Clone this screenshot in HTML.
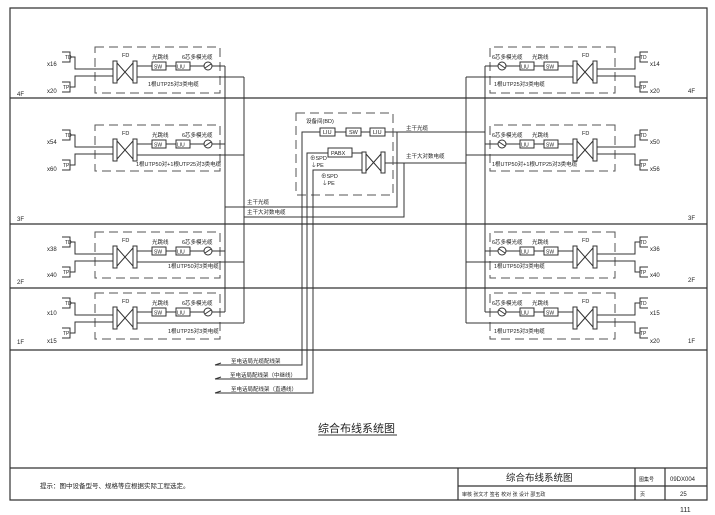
<!DOCTYPE html>
<html><head><meta charset="utf-8"><style>
html,body{margin:0;padding:0;background:#fff;}
svg{display:block;}
text{font-family:"Liberation Sans","Noto Sans CJK SC",sans-serif;fill:#222;}
</style></head><body>
<svg width="715" height="515" viewBox="0 0 715 515" xmlns="http://www.w3.org/2000/svg">
<defs>
<g id="mod" stroke="#333" fill="none" stroke-width="1">
  <rect x="95" y="47" width="125" height="46" stroke-dasharray="9,5" stroke="#555"/>
  <rect x="113" y="61" width="4" height="22" fill="#fff"/>
  <rect x="133" y="61" width="4" height="22" fill="#fff"/>
  <path d="M117,63 L133,81 M117,81 L133,63"/>
  <path d="M62,52 H70 V62 H62 M70,57 H75 V69 H113"/>
  <path d="M62,82 H70 V92 H62 M70,87 H75 V76 H113"/>
  <rect x="152" y="62" width="14" height="8" fill="#fff"/>
  <rect x="176" y="62" width="14" height="8" fill="#fff"/>
  <circle cx="208" cy="66" r="4"/>
  <path d="M205,68 L211,64"/>
  <path d="M137,66 H152 M166,66 H176 M190,66 H204 M212,66 H225"/>
  <path d="M137,77 H244"/>
</g>
<g id="ll" font-size="5.5">
  <text x="122" y="57">FD</text><text x="152" y="59">光跳线</text><text x="182" y="59">6芯多模光缆</text>
  <text x="154" y="68.5" font-size="5">SW</text><text x="177" y="68.5" font-size="5">LIU</text>
</g>
<g id="rl" font-size="5.5">
  <text x="582" y="57">FD</text><text x="492" y="59">6芯多模光缆</text><text x="532" y="59">光跳线</text>
  <text x="521" y="68.5" font-size="5">LIU</text><text x="546" y="68.5" font-size="5">SW</text>
</g>
</defs>
<g stroke="#333" fill="none" stroke-width="1.2">
  <path d="M10,8 H707 V500 H10 Z"/>
  <path d="M10,98 H707 M10,224 H707 M10,288 H707 M10,350 H707"/>
  <path d="M10,468 H707 M458,468 V500 M458,486 H707 M635,468 V500 M665,468 V500"/>
</g>
<use href="#mod"/>
<use href="#mod" transform="translate(0,78)"/>
<use href="#mod" transform="translate(0,185)"/>
<use href="#mod" transform="translate(0,246)"/>
<use href="#mod" transform="translate(710,0) scale(-1,1)"/>
<use href="#mod" transform="translate(710,78) scale(-1,1)"/>
<use href="#mod" transform="translate(710,185) scale(-1,1)"/>
<use href="#mod" transform="translate(710,246) scale(-1,1)"/>
<use href="#ll"/><use href="#ll" transform="translate(0,78)"/><use href="#ll" transform="translate(0,185)"/><use href="#ll" transform="translate(0,246)"/>
<use href="#rl"/><use href="#rl" transform="translate(0,78)"/><use href="#rl" transform="translate(0,185)"/><use href="#rl" transform="translate(0,246)"/>
<g stroke="#333" fill="none" stroke-width="1">
  <path d="M225,66 V312 M244,77 V323 M225,207 H397 V132 M244,217 H404 V163"/>
  <path d="M485,66 V312 M466,77 V323 M385,132 H485 M385,163 H466"/>
  <rect x="296" y="113" width="97" height="82" stroke-dasharray="9,5" stroke="#555"/>
  <rect x="320" y="128" width="15" height="8" fill="#fff"/>
  <rect x="346" y="128" width="15" height="8" fill="#fff"/>
  <rect x="370" y="128" width="15" height="8" fill="#fff"/>
  <path d="M335,132 H346 M361,132 H370 M320,132 H302 V365 H215"/>
  <rect x="328" y="148" width="24" height="9" fill="#fff"/>
  <rect x="362" y="152" width="4" height="21" fill="#fff"/>
  <rect x="381" y="152" width="4" height="21" fill="#fff"/>
  <path d="M366,154 L381,171 M366,171 L381,154 M352,153 H362 M328,153 H307 V379 H215 M362,170 H313 V393 H215"/>
  <path d="M215,365 l6,-2 M215,379 l6,-2 M215,393 l6,-2"/>
  <path d="M318,435 H397"/>
</g>
<g font-size="6">
  <text x="47" y="66">x16</text><text x="65" y="59" font-size="5">TD</text>
  <text x="47" y="93">x20</text><text x="63" y="89" font-size="5">TP</text>
  <text x="47" y="144">x54</text><text x="65" y="137" font-size="5">TD</text>
  <text x="47" y="171">x60</text><text x="63" y="167" font-size="5">TP</text>
  <text x="47" y="251">x38</text><text x="65" y="244" font-size="5">TD</text>
  <text x="47" y="277">x40</text><text x="63" y="274" font-size="5">TP</text>
  <text x="47" y="315">x10</text><text x="65" y="305" font-size="5">TD</text>
  <text x="47" y="343">x15</text><text x="63" y="335" font-size="5">TP</text>
  <text x="650" y="66">x14</text><text x="640" y="59" font-size="5">TD</text>
  <text x="650" y="93">x20</text><text x="640" y="89" font-size="5">TP</text>
  <text x="650" y="144">x50</text><text x="640" y="137" font-size="5">TD</text>
  <text x="650" y="171">x56</text><text x="640" y="167" font-size="5">TP</text>
  <text x="650" y="251">x36</text><text x="640" y="244" font-size="5">TD</text>
  <text x="650" y="277">x40</text><text x="640" y="274" font-size="5">TP</text>
  <text x="650" y="315">x15</text><text x="640" y="305" font-size="5">TD</text>
  <text x="650" y="343">x20</text><text x="640" y="335" font-size="5">TP</text>
  <text x="17" y="96">4F</text><text x="17" y="221">3F</text><text x="17" y="284">2F</text><text x="17" y="344">1F</text>
  <text x="688" y="93">4F</text><text x="688" y="220">3F</text><text x="688" y="282">2F</text><text x="688" y="343">1F</text>
  <g font-size="5.5">
  <text x="148" y="86">1根UTP25对3类电缆</text>
  <text x="136" y="166">1根UTP50对+1根UTP25对3类电缆</text>
  <text x="168" y="268">1根UTP50对3类电缆</text>
  <text x="168" y="333">1根UTP25对3类电缆</text>
  <text x="494" y="86">1根UTP25对3类电缆</text>
  <text x="492" y="166">1根UTP50对+1根UTP25对3类电缆</text>
  <text x="494" y="268">1根UTP50对3类电缆</text>
  <text x="494" y="333">1根UTP25对3类电缆</text>
  <text x="306" y="123">设备间(BD)</text>
  <text x="323" y="134">LIU</text><text x="349" y="134">SW</text><text x="373" y="134">LIU</text>
  <text x="331" y="155">PABX</text>
  <text x="310" y="160">⊕SPD</text><text x="311" y="167">⏚PE</text>
  <text x="321" y="178">⊕SPD</text><text x="322" y="185">⏚PE</text>
  <text x="406" y="130">主干光缆</text><text x="406" y="158">主干大对数电缆</text>
  <text x="247" y="204">主干光缆</text><text x="247" y="214">主干大对数电缆</text>
  <text x="231" y="363">至电话局光缆配线架</text>
  <text x="230" y="377">至电话局配线架（中继线）</text>
  <text x="231" y="391">至电话局配线架（直通线）</text>
  </g>
</g>
<text x="318" y="432" font-size="11">综合布线系统图</text>
<text x="40" y="488" font-size="6.5">提示：图中设备型号、规格等应根据实际工程选定。</text>
<text x="506" y="481" font-size="9.5">综合布线系统图</text>
<text x="639" y="481" font-size="5">图集号</text>
<text x="670" y="481" font-size="6">09DX004</text>
<text x="462" y="496" font-size="5">审核 张文才 签名 校对 张 设计 邵玉政</text>
<text x="640" y="496" font-size="5">页</text>
<text x="680" y="496" font-size="6">25</text>
<text x="680" y="512" font-size="7">111</text>
</svg>
</body></html>
